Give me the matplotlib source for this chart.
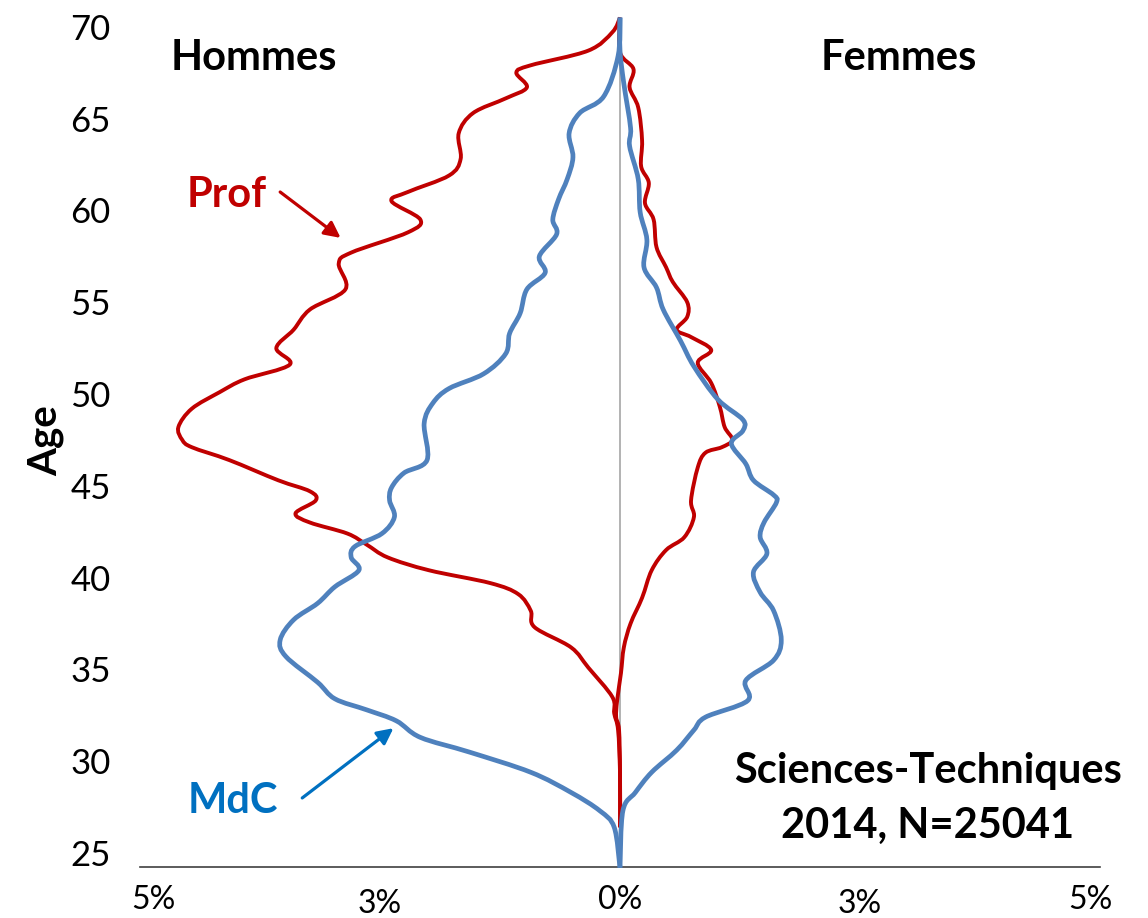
import matplotlib.pyplot as plt
from matplotlib.path import Path
from matplotlib.patches import PathPatch
from matplotlib.transforms import ScaledTranslation

plt.rcParams['font.family'] = ['Lato', 'DejaVu Sans']

# age pyramid, share of each age (%), Hommes drawn to the left
ages_prof_h = [70.5, 69.7, 68.7, 67.9, 67.5, 66.7, 66.1, 65.3, 64.2, 62.8, 61.9, 61.0, 60.5, 59.5, 58.8,
               57.7, 57.1, 55.7, 54.6, 53.5, 52.5, 51.6, 50.8, 50.1, 49.2, 48.2, 47.5, 47.1, 46.4, 45.3,
               44.7, 44.2, 43.5, 43.0, 42.4, 41.8, 41.1, 40.4, 39.7, 39.1, 38.2, 37.3, 36.2, 35.1, 33.5,
               32.6, 31.7, 29.4, 26.4]
prof_h = [0.00, 0.08, 0.33, 0.93, 1.08, 0.97, 1.19, 1.53, 1.68, 1.66, 1.78, 2.21, 2.38, 2.08, 2.21,
          2.80, 2.93, 2.86, 3.23, 3.40, 3.58, 3.44, 3.91, 4.17, 4.46, 4.60, 4.56, 4.46, 4.07, 3.56,
          3.23, 3.17, 3.38, 3.23, 2.84, 2.64, 2.42, 1.99, 1.35, 1.06, 0.93, 0.89, 0.51, 0.33, 0.08,
          0.06, 0.02, 0.00, 0.00]

ages_prof_f = [70.5, 68.6, 67.7, 66.7, 65.6, 63.8, 62.4, 61.5, 60.4, 59.5, 58.0, 56.9, 56.1, 55.0, 54.2,
               53.5, 53.1, 52.4, 51.7, 50.6, 49.3, 48.2, 47.5, 47.1, 46.8, 46.0, 44.2, 43.3, 42.2, 41.5,
               40.4, 38.9, 37.5, 36.2, 34.8, 33.3, 32.4, 31.7, 29.4, 26.4]
prof_f = [0.00, 0.00, 0.14, 0.10, 0.19, 0.23, 0.22, 0.30, 0.26, 0.35, 0.38, 0.48, 0.55, 0.70, 0.70,
          0.59, 0.74, 0.95, 0.81, 0.95, 1.04, 1.09, 1.17, 1.06, 0.89, 0.81, 0.74, 0.77, 0.67, 0.48,
          0.33, 0.23, 0.11, 0.04, 0.01, -0.03, -0.04, -0.01, 0.00, 0.00]

ages_mdc_h = [70.5, 68.4, 66.2, 65.3, 64.2, 62.9, 61.7, 60.6, 59.5, 58.7, 57.5, 56.6, 55.7, 54.4, 53.3,
              52.2, 51.1, 50.3, 49.5, 48.4, 46.4, 45.7, 44.9, 44.2, 43.3, 42.4, 41.7, 41.1, 40.4, 39.5,
              38.6, 37.7, 36.6, 35.7, 34.3, 33.4, 32.8, 32.2, 31.3, 30.5, 29.4, 28.3, 27.3, 26.4, 24.2]
mdc_h = [0.00, 0.02, 0.17, 0.42, 0.53, 0.49, 0.55, 0.64, 0.70, 0.66, 0.84, 0.78, 0.97, 1.04, 1.15,
         1.19, 1.42, 1.78, 1.95, 2.04, 2.01, 2.25, 2.38, 2.40, 2.35, 2.48, 2.76, 2.80, 2.72, 2.97,
         3.15, 3.40, 3.54, 3.48, 3.15, 2.97, 2.64, 2.33, 2.08, 1.57, 0.93, 0.51, 0.21, 0.06, 0.00]

ages_mdc_f = [70.5, 68.7, 66.9, 64.5, 63.5, 61.7, 59.9, 58.4, 56.9, 55.8, 54.6, 52.9, 51.5, 49.7, 48.6,
              48.0, 47.3, 46.2, 45.3, 44.5, 44.1, 43.0, 42.2, 41.3, 40.3, 39.2, 38.2, 36.6, 35.5, 34.4,
              33.3, 32.4, 31.7, 30.6, 29.4, 28.3, 27.3, 24.2]
mdc_f = [0.00, 0.00, 0.04, 0.11, 0.10, 0.19, 0.21, 0.28, 0.25, 0.38, 0.45, 0.63, 0.77, 1.02, 1.28,
         1.28, 1.16, 1.31, 1.39, 1.60, 1.63, 1.50, 1.46, 1.53, 1.39, 1.46, 1.60, 1.68, 1.60, 1.31,
         1.33, 0.89, 0.77, 0.59, 0.33, 0.16, 0.03, 0.00]

x_ticks = [-5, -2.5, 0, 2.5, 5]
x_labels = ['5%', '3%', '0%', '3%', '5%']
y_ticks = [25, 30, 35, 40, 45, 50, 55, 60, 65, 70]

RED = '#C00000'
BLUE = '#4F81BD'
BLUE_TXT = '#0070C0'


def smooth_line(ax, xs, ys, color, lw, z):
    # excel-like smoothed line: bezier segments through the points
    pts = list(zip(xs, ys))
    verts = [pts[0]]
    codes = [Path.MOVETO]
    n = len(pts)
    for i in range(n - 1):
        p0 = pts[i - 1] if i > 0 else pts[i]
        p1 = pts[i]
        p2 = pts[i + 1]
        p3 = pts[i + 2] if i + 2 < n else pts[i + 1]
        c1 = (p1[0] + (p2[0] - p0[0]) / 6, p1[1] + (p2[1] - p0[1]) / 6)
        c2 = (p2[0] - (p3[0] - p1[0]) / 6, p2[1] - (p3[1] - p1[1]) / 6)
        verts += [c1, c2, p2]
        codes += [Path.CURVE4] * 3
    ax.add_patch(PathPatch(Path(verts, codes), fill=False, edgecolor=color, lw=lw,
                           joinstyle='round', capstyle='butt', clip_on=False, zorder=z))


fig = plt.figure(figsize=(11.48, 9.18), dpi=100)
ax = fig.add_axes([140 / 1148, 1 - 867 / 918, 960 / 1148, 850 / 918])

ax.axvline(0, color='#A6A6A6', lw=1.2, zorder=1)

smooth_line(ax, [-v for v in prof_h], ages_prof_h, RED, 2.8, 2)
smooth_line(ax, prof_f, ages_prof_f, RED, 2.8, 2)
smooth_line(ax, [-v for v in mdc_h], ages_mdc_h, BLUE, 3.4, 3)
smooth_line(ax, mdc_f, ages_mdc_f, BLUE, 3.4, 3)

ax.set_xlim(-5, 5)
ax.set_ylim(24.24, 70.53)

ax.set_yticks(y_ticks)
ax.set_yticklabels([str(a) for a in y_ticks], fontsize=25)
ax.tick_params(axis='y', length=0, pad=21)

ax.set_xticks(x_ticks)
ax.set_xticklabels(x_labels, fontsize=23)
ax.tick_params(axis='x', length=0, pad=13)
ticks = ax.xaxis.get_major_ticks()
ticks[1].set_pad(16)
ticks[3].set_pad(16)
lbls = ax.get_xticklabels()
lbls[0].set_transform(lbls[0].get_transform() + ScaledTranslation(13 / 100, 0, fig.dpi_scale_trans))
lbls[4].set_transform(lbls[4].get_transform() + ScaledTranslation(-10 / 100, 0, fig.dpi_scale_trans))

for s in ['left', 'right', 'top']:
    ax.spines[s].set_visible(False)
ax.spines['bottom'].set_color('#404040')
ax.spines['bottom'].set_linewidth(1.2)

fig.text(46 / 1148, 1 - 441 / 918, 'Age', rotation=90, fontsize=29, fontweight='bold',
         ha='center', va='center')

ax.text(0.11875, 0.9376, 'Hommes', transform=ax.transAxes, fontsize=30, fontweight='bold',
        ha='center', va='baseline')
ax.text(0.7906, 0.9376, 'Femmes', transform=ax.transAxes, fontsize=30, fontweight='bold',
        ha='center', va='baseline')
ax.text(0.0906, 0.7765, 'Prof', transform=ax.transAxes, fontsize=30, fontweight='bold',
        color=RED, ha='center', va='baseline')
ax.text(0.0969, 0.0635, 'MdC', transform=ax.transAxes, fontsize=30, fontweight='bold',
        color=BLUE_TXT, ha='center', va='baseline')
ax.text(0.8208, 0.0988, 'Sciences-Techniques', transform=ax.transAxes, fontsize=30,
        fontweight='bold', ha='center', va='baseline')
ax.text(0.8208, 0.0341, '2014, N=25041', transform=ax.transAxes, fontsize=30,
        fontweight='bold', ha='center', va='baseline')

ax.annotate('', xy=(-2.91, 58.5), xytext=(-3.54, 61.0),
            arrowprops=dict(arrowstyle='-|>', color=RED, lw=2.3, mutation_scale=24, shrinkA=0, shrinkB=0))
ax.annotate('', xy=(-2.36, 31.8), xytext=(-3.31, 28.0),
            arrowprops=dict(arrowstyle='-|>', color=BLUE_TXT, lw=2.3, mutation_scale=24, shrinkA=0, shrinkB=0))

fig.savefig('out.png', dpi=100)
